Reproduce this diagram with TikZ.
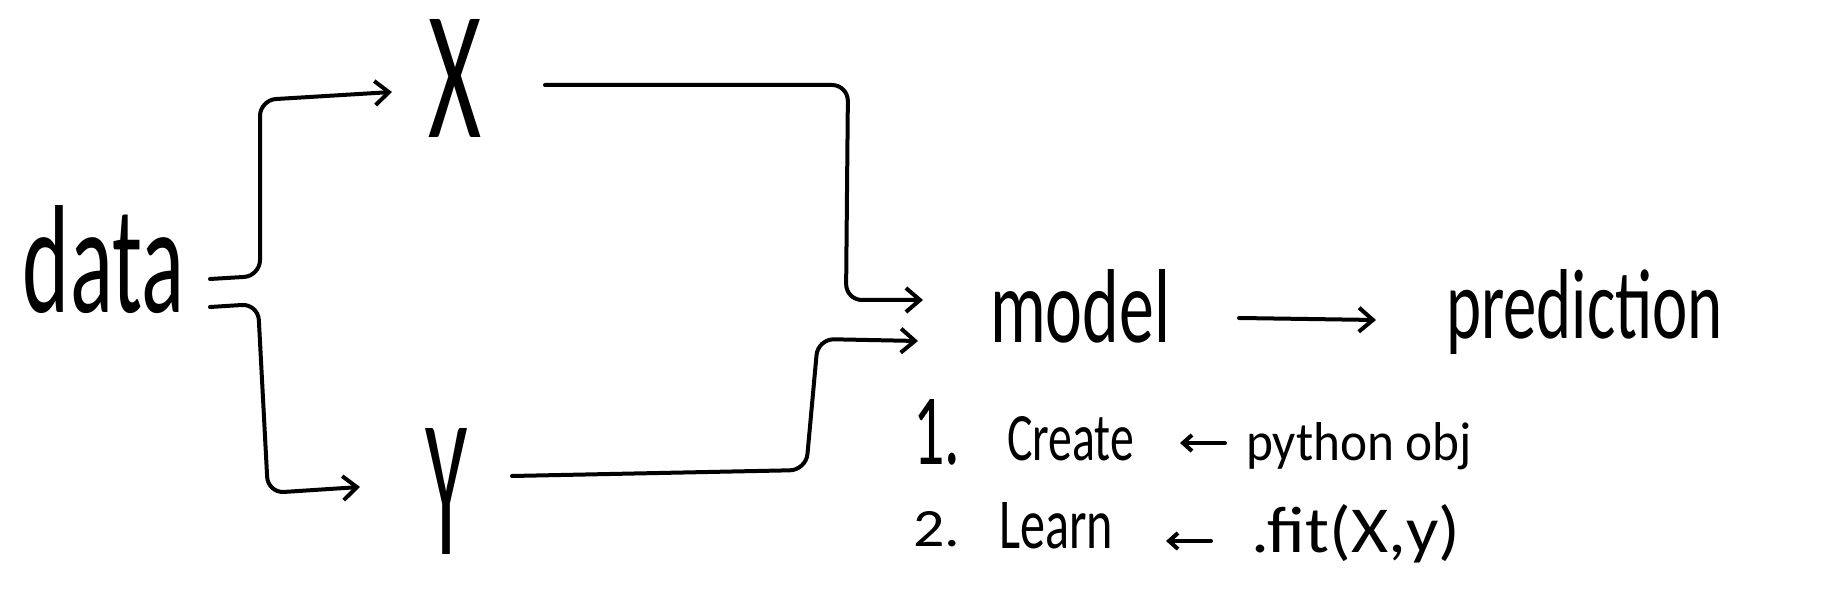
\documentclass[tikz,border=0pt]{standalone}
\usepackage{fontspec}
\setmainfont{Carlito}
\usetikzlibrary{arrows.meta,calc}
\newlength\pxu
\setlength\pxu{0.5pt}
\newcommand{\hw}[3]{\resizebox{#1\pxu}{#2\pxu}{#3}}
\begin{document}
\begin{tikzpicture}[x=0.5pt,y=-0.5pt,line width=2pt,line cap=round,line join=round,
  lbl/.style={inner sep=0pt,anchor=base west},
  conn/.style={-{Straight Barb[length=7pt,width=12pt]},rounded corners=8pt},
  smallconn/.style={-{Straight Barb[length=4.5pt,width=8pt]}}]
\useasboundingbox (0,0) rectangle (1844,603);
% texts
\node[lbl] (data) at (21,313) {\hw{161}{107}{data}};
\node[lbl] (X) at (426,138) {\hw{53}{118}{X}};
\node[lbl] (Y) at (423,555) {\hw{42}{126}{Y}};
\node[lbl] (model) at (988,343) {\hw{180}{73}{model}};
\node[lbl] (pred) at (1444,339) {\hw{277}{69}{prediction}};
\node[lbl] (one) at (911,465) {\hw{47}{65}{1.}};
\node[lbl] (create) at (1005,461) {\hw{127}{44}{Create}};
\node[lbl] (pyobj) at (1244,461) {\hw{226}{38}{python obj}};
\node[lbl] (two) at (911,547) {\hw{47}{35}{2.}};
\node[lbl] (learn) at (997,549) {\hw{114}{46}{Learn}};
\node[lbl] (fit) at (1249,553) {\hw{209}{48}{.fit(X,y)}};
% connectors
\draw[conn] ($(data.base east)+(24,-34)$) -- (260,276) -- (260,100) -- ($(X.base west)+(-34,-46)$);
\draw[conn] ($(data.base east)+(24,-6)$) -- (258,304) -- (268,493) -- ($(Y.base west)+(-63,-68)$);
\draw[conn] ($(X.base east)+(62,-53)$) -- (848,85) -- (846,300) -- ($(model.base west)+(-65,-43)$);
\draw[conn] ($(Y.base east)+(43,-79)$) -- (806,470) -- (818,339) -- ($(model.base west)+(-70,-2)$);
\draw[conn] ($(model.base east)+(67,-25)$) -- ($(pred.base west)+(-68,-19)$);
\draw[smallconn] ($(pyobj.base west)+(-19,-18)$) -- ($(create.base east)+(44,-18)$);
\draw[smallconn] ($(fit.base west)+(-38,-12)$) -- ($(learn.base east)+(51,-8)$);
\end{tikzpicture}
\end{document}
